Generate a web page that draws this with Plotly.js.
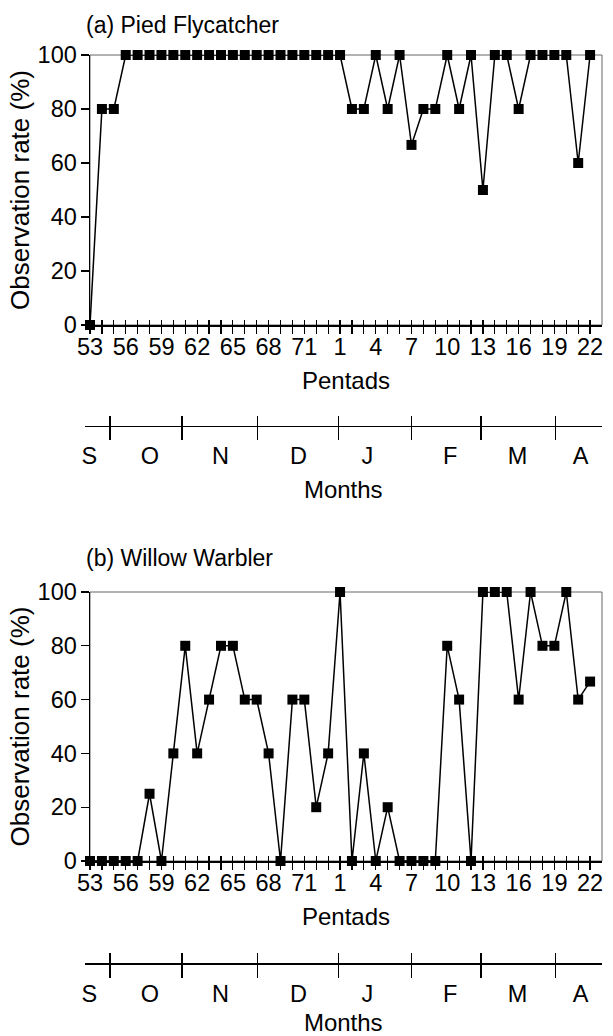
<!DOCTYPE html>
<html>
<head>
<meta charset="utf-8">
<script src="https://cdn.plot.ly/plotly-3.0.1.min.js"></script>
<style>html,body{margin:0;padding:0;background:#fff;}#chart{width:613px;height:1036px;}</style>
</head>
<body>
<div id="chart"></div>
<script>
// ---- data ----
const pentads = ['53','54','55','56','57','58','59','60','61','62','63','64','65','66','67','68','69','70','71','72','73',
                 '1','2','3','4','5','6','7','8','9','10','11','12','13','14','15','16','17','18','19','20','21','22'];
const pentadTickLabels = ['53','56','59','62','65','68','71','1','4','7','10','13','16','19','22'];
const piedFlycatcher = [0,80,80,100,100,100,100,100,100,100,100,100,100,100,100,100,100,100,100,100,100,
                        100,80,80,100,80,100,66.7,80,80,100,80,100,50,100,100,80,100,100,100,100,60,100];
const willowWarbler  = [0,0,0,0,0,25,0,40,80,40,60,80,80,60,60,40,0,60,60,20,40,
                        100,0,40,0,20,0,0,0,0,80,60,0,100,100,100,60,100,80,80,100,60,66.7];
const months = ['S','O','N','D','J','F','M','A'];
// month positions expressed in pentad-index units (0 = pentad 53)
const monthBounds  = [1.68, 7.73, 14.08, 20.84, 26.97, 32.83, 39.08];
const monthCenters = [-0.06, 5.03, 10.95, 17.5, 23.3, 30.25, 35.9, 41.2];
const yTicks = [0,20,40,60,80,100];
const panelTitles = ['(a) Pied Flycatcher','(b) Willow Warbler'];

// ---- layout helpers ----
const W = 613, H = 1036;
const FONT = 'Liberation Sans, Arial, Helvetica, sans-serif';
const fy = px => 1 - px / H;
const idx = pentads.map((p, i) => i);
const ticktext = pentads.map(p => pentadTickLabels.includes(p) ? p : '');
const xDom = [90 / W, 602 / W];
const xRange = [0, 43];
const mDom = [84.5 / W, 602 / W];
const mRange = [-0.46, 43];
const TF = 23.5;

function mainX(anchor) {
  return {
    type: 'category', domain: xDom, range: xRange, anchor: anchor,
    tickmode: 'array', tickvals: pentads, ticktext: ticktext,
    ticks: 'outside', ticklen: 7, tickwidth: 1.2, tickcolor: '#000',
    showline: true, linewidth: 1.5, linecolor: '#000',
    tickfont: {size: TF, color: '#000'}, ticklabelstandoff: -7,
    title: {text: 'Pentads', font: {size: 24, color: '#000'}, standoff: 13},
    showgrid: false, zeroline: false, fixedrange: true, automargin: false
  };
}
function innerX(over, anchor) {
  return {
    overlaying: over, anchor: anchor, domain: xDom, range: xRange,
    tickmode: 'array', tickvals: idx, ticks: 'inside', ticklen: 5, tickwidth: 1.2, tickcolor: '#000',
    showticklabels: false, showline: false, showgrid: false, zeroline: false, fixedrange: true, automargin: false
  };
}
function mainY(dom, anchor) {
  return {
    domain: dom, range: [0, 100], anchor: anchor,
    tickmode: 'array', tickvals: yTicks,
    ticks: 'outside', ticklen: 8, tickwidth: 1.2, tickcolor: '#000',
    showline: true, linewidth: 1.5, linecolor: '#000',
    tickfont: {size: TF, color: '#000'}, ticklabelstandoff: -1,
    title: {text: 'Observation rate (%)', font: {size: 26, color: '#000'}, standoff: 0},
    showgrid: false, zeroline: false, fixedrange: true, automargin: false
  };
}
function hiddenY(pos, anchor) {
  return {domain: [pos, pos + 0.01], range: [0, 1], anchor: anchor, visible: false, fixedrange: true};
}
function monthLineX(anchor) {
  return {
    domain: mDom, range: mRange, anchor: anchor,
    tickmode: 'array', tickvals: monthBounds, ticks: 'outside', ticklen: 13, tickwidth: 1.2, tickcolor: '#000',
    showticklabels: false, showline: true, linewidth: 1.2, linecolor: '#000',
    showgrid: false, zeroline: false, fixedrange: true, automargin: false
  };
}
function monthUpX(over, anchor) {
  return {
    overlaying: over, anchor: anchor, domain: mDom, range: mRange,
    tickmode: 'array', tickvals: monthBounds, ticks: 'inside', ticklen: 10, tickwidth: 1.2, tickcolor: '#000',
    showticklabels: false, showline: false, showgrid: false, zeroline: false, fixedrange: true, automargin: false
  };
}
function monthLabelX(over, anchor) {
  return {
    overlaying: over, anchor: anchor, domain: mDom, range: mRange,
    tickmode: 'array', tickvals: monthCenters, ticktext: months, ticks: '',
    tickfont: {size: TF, color: '#000'}, ticklabelstandoff: 14,
    title: {text: 'Months', font: {size: 24, color: '#000'}, standoff: 12},
    showline: false, showgrid: false, zeroline: false, fixedrange: true, automargin: false
  };
}

const lineStyle = {color: '#000', width: 1.5};
const markerStyle = {symbol: 'square', size: 10, color: '#000'};
const empty = (xa, ya) => ({x: [], y: [], xaxis: xa, yaxis: ya, type: 'scatter', mode: 'markers',
                            showlegend: false, hoverinfo: 'skip'});

const data = [
  {x: pentads, y: piedFlycatcher, xaxis: 'x', yaxis: 'y', type: 'scatter', mode: 'lines+markers',
   line: lineStyle, marker: markerStyle, cliponaxis: false, showlegend: false, hoverinfo: 'skip'},
  {x: pentads, y: willowWarbler, xaxis: 'x6', yaxis: 'y4', type: 'scatter', mode: 'lines+markers',
   line: lineStyle, marker: markerStyle, cliponaxis: false, showlegend: false, hoverinfo: 'skip'},
  empty('x2', 'y'), empty('x3', 'y3'), empty('x4', 'y3'), empty('x5', 'y3'),
  empty('x7', 'y4'), empty('x8', 'y5'), empty('x9', 'y5'), empty('x10', 'y5')
];

const domA = [fy(325), fy(55)];
const domB = [fy(861), fy(592)];

const layout = {
  width: W, height: H,
  margin: {l: 0, r: 0, t: 0, b: 0, pad: 0},
  paper_bgcolor: '#fff', plot_bgcolor: 'rgba(0,0,0,0)',
  font: {family: FONT, color: '#000'},
  showlegend: false,
  xaxis: mainX('y'),
  xaxis2: innerX('x', 'y'),
  yaxis: mainY(domA, 'x'),
  yaxis3: hiddenY(fy(425.7), 'x3'),
  xaxis3: monthLineX('y3'),
  xaxis4: monthUpX('x3', 'y3'),
  xaxis5: monthLabelX('x3', 'y3'),
  xaxis6: mainX('y4'),
  xaxis7: innerX('x6', 'y4'),
  yaxis4: mainY(domB, 'x6'),
  yaxis5: hiddenY(fy(963.3), 'x8'),
  xaxis8: monthLineX('y5'),
  xaxis9: monthUpX('x8', 'y5'),
  xaxis10: monthLabelX('x8', 'y5'),
  shapes: [
    {type: 'rect', xref: 'x domain', yref: 'y domain', x0: 0, x1: 1, y0: 0, y1: 1,
     line: {color: '#666', width: 1}, layer: 'below'},
    {type: 'rect', xref: 'x6 domain', yref: 'y4 domain', x0: 0, x1: 1, y0: 0, y1: 1,
     line: {color: '#666', width: 1}, layer: 'below'}
  ],
  annotations: [
    {text: panelTitles[0], xref: 'paper', yref: 'paper', x: 84 / W, y: fy(25), xanchor: 'left', yanchor: 'middle',
     showarrow: false, font: {size: 23, color: '#000'}},
    {text: panelTitles[1], xref: 'paper', yref: 'paper', x: 84 / W, y: fy(558), xanchor: 'left', yanchor: 'middle',
     showarrow: false, font: {size: 23, color: '#000'}}
  ]
};

Plotly.newPlot('chart', data, layout, {staticPlot: true, displayModeBar: false});
</script>
</body>
</html>
